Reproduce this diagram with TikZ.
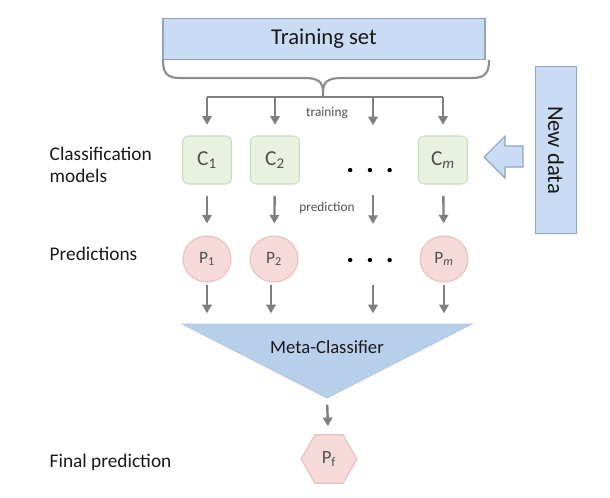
\documentclass[tikz,border=0pt]{standalone}
\usepackage{fontspec}
\setmainfont{Carlito}
\usetikzlibrary{arrows.meta,shapes.geometric}
\definecolor{arrgray}{HTML}{808080}
\definecolor{bluefill}{HTML}{C9DCF3}
\definecolor{blueline}{HTML}{8DA5C6}
\definecolor{trifill}{HTML}{B8CFEA}
\definecolor{greenfill}{HTML}{E9F2E1}
\definecolor{greenline}{HTML}{CADBBE}
\definecolor{pinkfill}{HTML}{F6D9D9}
\definecolor{pinkline}{HTML}{E9C0C0}
\definecolor{nodetext}{HTML}{505050}
\tikzset{
  arr/.style={draw=arrgray, line width=1.8pt, -{Triangle[length=6.5pt,width=7pt]}},
  cbox/.style={draw=greenline, fill=greenfill, line width=0.8pt, rounded corners=4.5pt,
    minimum width=36.75pt, minimum height=36pt, inner sep=0pt, text=nodetext, font=\fontsize{16}{18}\selectfont},
  pell/.style={draw=pinkline, fill=pinkfill, line width=0.8pt, ellipse,
    minimum width=36pt, minimum height=34.5pt, inner sep=0pt, text=nodetext, font=\fontsize{13}{15}\selectfont},
  lbl/.style={anchor=west, align=left, text=black!90, font=\fontsize{14.5}{17}\selectfont},
  small/.style={text=nodetext, font=\fontsize{10}{12}\selectfont},
  dots/.style={font=\fontsize{22}{22}\bfseries\selectfont, text=black},
}
\begin{document}
\begin{tikzpicture}[x=0.75pt,y=-0.75pt]
\useasboundingbox (0,0) rectangle (610,497);

% Training set
\node[draw=blueline, fill=bluefill, line width=0.8pt, minimum width=241.5pt, minimum height=31pt,
  inner sep=0pt, font=\fontsize{17}{20}\selectfont, text=black!90] (ts) at (324,39) {Training set};

% brace
\coordinate (brtip) at (323,92);
\draw[draw=arrgray!90, line width=1.6pt]
  (163,60) .. controls (163,72) and (166,78) .. (180,78)
  -- (305,78) .. controls (318,78) and (323,82) .. (brtip)
  .. controls (323,82) and (328,78) .. (341,78)
  -- (472,78) .. controls (486,78) and (489,72) .. (489,60);

% distribution bar
\coordinate (b1) at (207,97);
\coordinate (b2) at (275,97);
\coordinate (b3) at (373,97);
\coordinate (b4) at (443,97);
\draw[draw=arrgray, line width=1.8pt] (brtip) -- (323,97);
\draw[draw=arrgray, line width=1.8pt] (b1) -- (b4);

% classifiers
\node[cbox] (c1) at (207,160) {C\textsubscript{1}};
\node[cbox] (c2) at (275,160) {C\textsubscript{2}};
\node[cbox] (cm) at (443,160) {C\textsubscript{\textit{m}}};
\node[dots] (cd) at (370,171) {.\hspace{9pt}.\hspace{9pt}.};
\coordinate (cdtop) at (373,136);
\coordinate (cdbot) at (373,184);

\draw[arr, shorten >=8pt] (b1) -- (c1);
\draw[arr, shorten >=8pt] (b2) -- (c2);
\draw[arr, shorten >=8pt] (b3) -- (cdtop);
\draw[arr, shorten >=8pt] (b4) -- (cm);

\node[small] (trainlbl) at (327,113) {training};

% predictions
\node[pell] (p1) at (207,259) {P\textsubscript{1}};
\node[pell] (p2) at (274,259) {P\textsubscript{2}};
\node[pell] (pm) at (444,259) {P\textsubscript{\textit{m}}};
\node[dots] (pd) at (370,261) {.\hspace{9pt}.\hspace{9pt}.};
\coordinate (pdtop) at (373,236);
\coordinate (pdbot) at (373,282);

\draw[arr, shorten <=8.5pt, shorten >=9pt] (c1) -- (p1);
\draw[arr, shorten <=8.5pt, shorten >=9pt] (c2) -- (p2);
\draw[arr, shorten <=8.5pt, shorten >=9pt] (cdbot) -- (pdtop);
\draw[arr, shorten <=8.5pt, shorten >=9pt] (cm) -- (pm);

\node[small] (predlbl) at (327,208) {prediction};

% meta classifier
\coordinate (tl) at (182,324);
\coordinate (tr) at (472,324);
\coordinate (apex) at (327,398);
\fill[trifill] (tl) -- (tr) -- (apex) -- cycle;
\draw[draw=trifill!80!blueline, line width=0.6pt] (tl) -- (tr) -- (apex) -- cycle;
\node[font=\fontsize{14}{16}\selectfont, text=black!90] (meta) at (327,347) {Meta-Classifier};
\coordinate (t1) at (207,324);
\coordinate (t2) at (271,324);
\coordinate (t3) at (373,324);
\coordinate (t4) at (444,324);

\draw[arr, shorten <=2pt, shorten >=8pt] (p1) -- (t1);
\draw[arr, shorten <=2pt, shorten >=8pt] (271,282) -- (t2);
\draw[arr, shorten <=2pt, shorten >=8pt] (pdbot) -- (t3);
\draw[arr, shorten <=2pt, shorten >=8pt] (pm) -- (t4);

% final prediction
\node[regular polygon, regular polygon sides=6, minimum size=42pt, inner sep=0pt,
  draw=pinkline, fill=pinkfill, line width=0.8pt, text=nodetext,
  font=\fontsize{14}{16}\selectfont] (pf) at (329,459) {P\textsubscript{f}};
\draw[arr, shorten <=5pt, shorten >=6pt] (apex) -- (pf);

% left labels
\node[lbl] (lcm) at (45,165) {Classification\\models};
\node[lbl] (lpred) at (45,254) {Predictions};
\node[lbl] (lfin) at (45,462) {Final prediction};

% new data
\node[draw=blueline, fill=bluefill, line width=0.8pt, rotate=-90, minimum width=125pt,
  minimum height=31pt, inner sep=0pt, font=\fontsize{17}{20}\selectfont, text=black!90] (nd) at (556,150) {New data};
\draw[draw=blueline, fill=bluefill, line width=0.8pt]
  (523,146) -- (505,146) -- (505,136) -- (484,157) -- (505,178) -- (505,167) -- (523,167) -- cycle;
\end{tikzpicture}
\end{document}
